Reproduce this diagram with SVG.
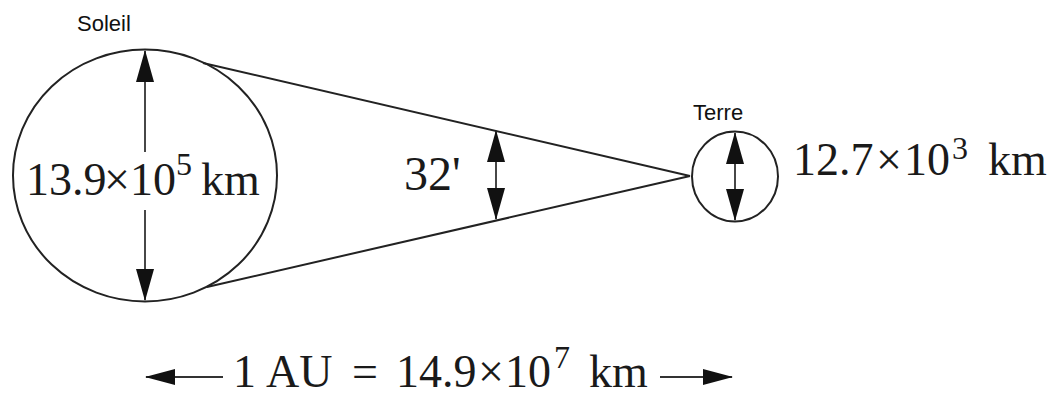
<svg xmlns="http://www.w3.org/2000/svg" width="1056" height="397" viewBox="0 0 1056 397">
<style>
.body{fill:none;stroke:#222;stroke-width:2}
.ln{fill:none;stroke:#222;stroke-width:2}
.ar{fill:none;stroke:#333;stroke-width:1.8;marker-end:url(#head)}
.ar2{fill:none;stroke:#333;stroke-width:1.8}
.big{font-family:"Liberation Serif","Times New Roman",serif;font-size:46px;fill:#1a1a1a}
.sup{font-size:32px}
.lbl{font-family:"Liberation Sans",Arial,sans-serif;font-size:22px;fill:#111}
</style>
<defs>
<marker id="head" viewBox="0 0 32 18" refX="31" refY="9" markerWidth="32" markerHeight="18" markerUnits="userSpaceOnUse" orient="auto">
<path d="M0,0 L32,9 L0,18 Z" fill="#111"/>
</marker>
<marker id="headS" viewBox="0 0 30 16" refX="29" refY="8" markerWidth="30" markerHeight="16" markerUnits="userSpaceOnUse" orient="auto">
<path d="M0,0 L30,8 L0,16 Z" fill="#111"/>
</marker>
</defs>
<g id="connectors">
<line class="ln" x1="203" y1="63" x2="690" y2="176"/>
<line class="ln" x1="207" y1="287" x2="690" y2="176"/>
<line class="ar" x1="496" y1="175" x2="496" y2="131"/>
<line class="ar" x1="496" y1="175" x2="496" y2="219"/>
<line class="ar2" x1="223" y1="377" x2="146" y2="377" style="marker-end:url(#headS)"/>
<line class="ar2" x1="660" y1="377" x2="732" y2="377" style="marker-end:url(#headS)"/>
</g>
<g id="soleil">
<ellipse class="body" cx="145" cy="175.5" rx="132" ry="126"/>
<line class="ar" x1="145" y1="152" x2="145" y2="51"/>
<line class="ar" x1="145" y1="210" x2="145" y2="300"/>
<text class="lbl" x="77" y="31">Soleil</text>
<text class="big" y="195"><tspan x="26">13.9</tspan><tspan x="104">×</tspan><tspan x="130">10</tspan><tspan x="176" y="175" class="sup">5</tspan><tspan x="201" y="195">km</tspan></text>
</g>
<g id="terre">
<ellipse class="body" cx="735" cy="176.5" rx="43" ry="45"/>
<line class="ar" x1="735" y1="176" x2="735" y2="133"/>
<line class="ar" x1="735" y1="176" x2="735" y2="220"/>
<text class="lbl" x="693" y="120">Terre</text>
<text class="big" y="175"><tspan x="793">12.7</tspan><tspan x="876">×</tspan><tspan x="904">10</tspan><tspan x="952" y="159" class="sup">3</tspan><tspan x="988" y="175">km</tspan></text>
</g>
<g id="angle">
<text class="big" x="404" y="190" style="font-size:48px">32'</text>
</g>
<g id="distance">
<text class="big" y="387"><tspan x="233">1</tspan><tspan x="266">AU</tspan><tspan x="352">=</tspan><tspan x="396">14.9</tspan><tspan x="478">×</tspan><tspan x="505">10</tspan><tspan x="554" y="368" class="sup">7</tspan><tspan x="589" y="387">km</tspan></text>
</g>
</svg>
